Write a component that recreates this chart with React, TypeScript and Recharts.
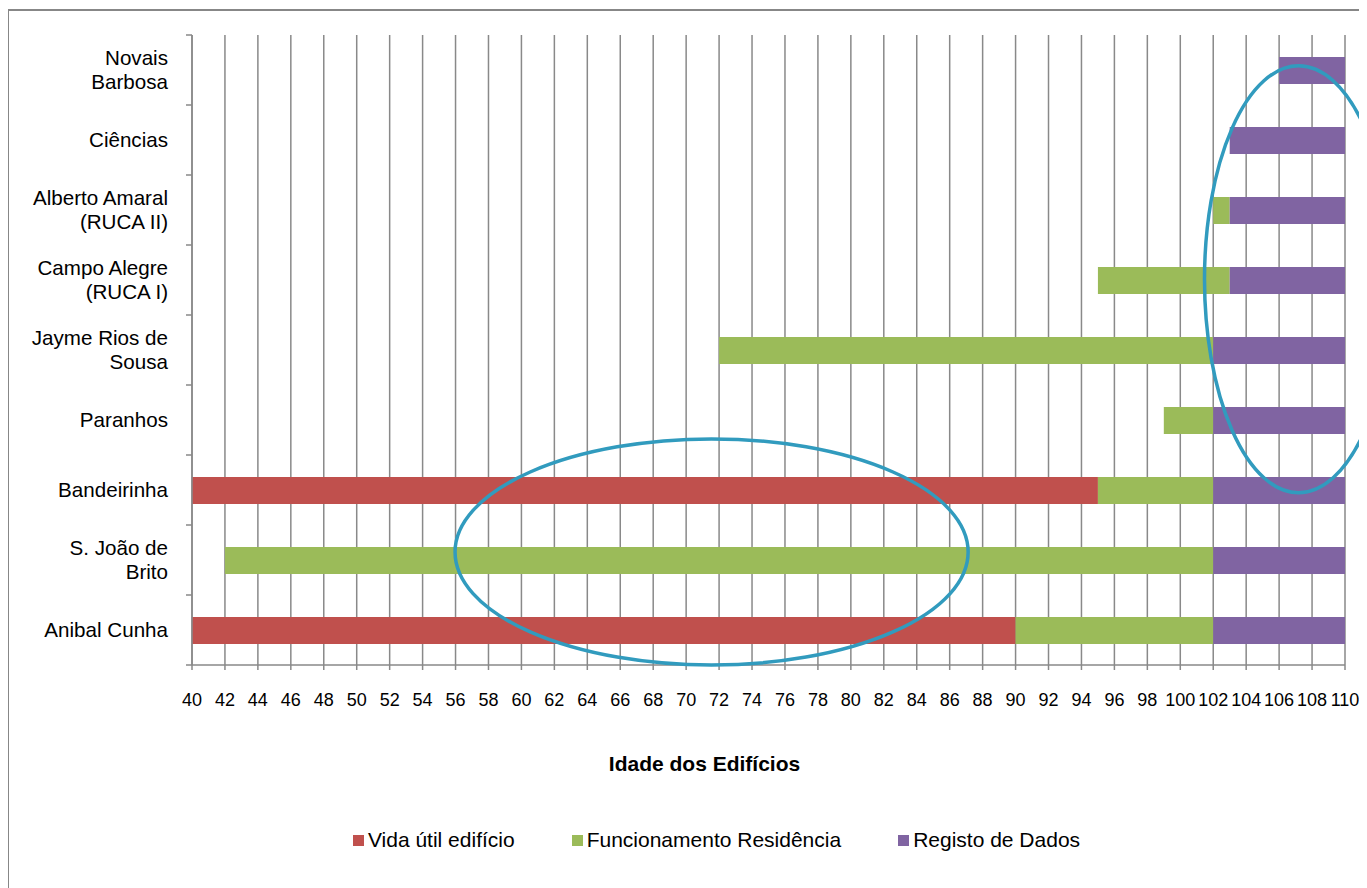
import React from "react";
import { BarChart, Bar, XAxis, YAxis, CartesianGrid, Legend, ReferenceArea, Label } from "recharts";

type Range = [number, number] | null;

// building names, top to bottom ("\n" = line break in the axis label)
const categories = [
  "Novais\nBarbosa",
  "Ciências",
  "Alberto Amaral\n(RUCA II)",
  "Campo Alegre\n(RUCA I)",
  "Jayme Rios de\nSousa",
  "Paranhos",
  "Bandeirinha",
  "S. João de\nBrito",
  "Anibal Cunha",
];

// [start, end] ages for each phase
const vidaUtil: Range[] = [null, null, null, null, null, null, [40, 95], null, [40, 90]];
const funcionamento: Range[] = [null, null, [102, 103], [95, 103], [72, 102], [99, 102], [95, 102], [42, 102], [90, 102]];
const registo: Range[] = [[106, 110], [103, 110], [103, 110], [103, 110], [102, 110], [102, 110], [102, 110], [102, 110], [102, 110]];

const xTicks = [40, 42, 44, 46, 48, 50, 52, 54, 56, 58, 60, 62, 64, 66, 68, 70, 72, 74, 76, 78, 80, 82, 84, 86, 88, 90, 92, 94, 96, 98, 100, 102, 104, 106, 108, 110];

// hand-drawn highlight ellipses: age range, first/last row, inset in row heights
const highlights = [
  { x1: 55.97, x2: 87.12, from: 6, to: 8, insetTop: -0.23, insetBottom: 0 },
  { x1: 101.47, x2: 112.89, from: 0, to: 6, insetTop: 0.44, insetBottom: 0.46 },
];

const series = [
  { key: "vida", name: "Vida útil edifício", color: "#C0504D" },
  { key: "func", name: "Funcionamento Residência", color: "#9BBB59" },
  { key: "registo", name: "Registo de Dados", color: "#8064A2" },
];

const span = (r: Range) => (r ? r[1] - r[0] : 0);

const data = categories.map((name, i) => {
  const parts = [vidaUtil[i], funcionamento[i], registo[i]].filter((p): p is [number, number] => p !== null);
  return {
    name,
    base: Math.min(...parts.map((p) => p[0])),
    vida: span(vidaUtil[i]),
    func: span(funcionamento[i]),
    registo: span(registo[i]),
  };
});

const FONT = '"Liberation Sans", Arial, sans-serif';
const GRID = "#898989";
const TICK_MARGIN = 18;
const TICK_SIZE = 6;

const CategoryTick = (props: any) => {
  const { x, y, payload, index, visibleTicksCount } = props;
  const lines = String(payload.value).split("\n");
  const lh = 24;
  const half = payload.offset || 0;
  const ax = x + TICK_MARGIN + TICK_SIZE;
  return (
    <g>
      <line x1={ax - TICK_SIZE} x2={ax} y1={y - half} y2={y - half} stroke={GRID} strokeWidth={1.5} />
      {index === visibleTicksCount - 1 && (
        <line x1={ax - TICK_SIZE} x2={ax} y1={y + half} y2={y + half} stroke={GRID} strokeWidth={1.5} />
      )}
      <text x={x} y={y} textAnchor="end" fill="#000" fontSize={20.6} fontFamily={FONT}>
        {lines.map((l, i) => (
          <tspan key={i} x={x} dy={i === 0 ? 7 - ((lines.length - 1) * lh) / 2 : lh}>
            {l}
          </tspan>
        ))}
      </text>
    </g>
  );
};

const Ellipse = (props: any) => {
  const { x, y, width, height, rows, insetTop, insetBottom } = props;
  const band = height / rows;
  const top = y + insetTop * band;
  const bottom = y + height - insetBottom * band;
  return (
    <ellipse
      cx={x + width / 2}
      cy={(top + bottom) / 2}
      rx={Math.abs(width) / 2}
      ry={Math.abs(bottom - top) / 2}
      fill="none"
      stroke="#319BBE"
      strokeWidth={3.5}
    />
  );
};

const renderTitle = (props: any) => {
  const vb = props.viewBox;
  return (
    <text
      x={vb.x + vb.width / 2 - 64}
      y={vb.y + 98}
      textAnchor="middle"
      dominantBaseline="central"
      fontSize={21}
      fontWeight="bold"
      fontFamily={FONT}
      fill="#000"
    >
      Idade dos Edifícios
    </text>
  );
};

const renderLegend = () => (
  <div
    style={{
      display: "flex",
      justifyContent: "center",
      alignItems: "center",
      height: 40,
      paddingLeft: 58,
      boxSizing: "border-box",
      fontFamily: FONT,
      fontSize: 21,
      color: "#000",
    }}
  >
    {series.map((s, i) => (
      <div key={s.key} style={{ display: "flex", alignItems: "center", marginLeft: i === 0 ? 0 : 57 }}>
        <span style={{ width: 11, height: 11, background: s.color, marginRight: 4, display: "inline-block" }} />
        <span>{s.name}</span>
      </div>
    ))}
  </div>
);

export default function App() {
  return (
    <div style={{ position: "relative", width: 1359, height: 880, overflow: "hidden", background: "#fff" }}>
      <div
        style={{
          position: "absolute",
          left: -1,
          top: 1,
          width: 1450,
          height: 1000,
          border: "2px solid #878787",
        }}
      />
      <div style={{ position: "absolute", left: 0, top: 0 }}>
        <BarChart
          width={1359}
          height={880}
          data={data}
          layout="vertical"
          margin={{ top: 27, right: 22, bottom: 28, left: 0 }}
          barSize={27}
        >
          <CartesianGrid horizontal={false} stroke={GRID} strokeWidth={1.5} />
          <XAxis
            type="number"
            domain={[40, 110]}
            ticks={xTicks}
            interval={0}
            allowDataOverflow
            height={155}
            tickSize={5}
            tickMargin={23}
            axisLine={{ stroke: GRID, strokeWidth: 1.5 }}
            tickLine={{ stroke: GRID, strokeWidth: 1.5 }}
            tick={{ fontSize: 18, fill: "#000", fontFamily: FONT }}
          >
            <Label content={renderTitle} />
          </XAxis>
          <YAxis
            type="category"
            dataKey="name"
            width={184}
            interval={0}
            tickLine={false}
            tickSize={TICK_SIZE}
            tickMargin={TICK_MARGIN}
            axisLine={{ stroke: GRID, strokeWidth: 1.5 }}
            tick={<CategoryTick />}
          />
          <Bar dataKey="base" stackId="s" fill="transparent" legendType="none" isAnimationActive={false} />
          {series.map((s) => (
            <Bar key={s.key} dataKey={s.key} name={s.name} stackId="s" fill={s.color} isAnimationActive={false} />
          ))}
          {highlights.map((h, i) => (
            <ReferenceArea
              key={i}
              x1={h.x1}
              x2={h.x2}
              y1={categories[h.from]}
              y2={categories[h.to]}
              ifOverflow="visible"
              shape={<Ellipse rows={h.to - h.from + 1} insetTop={h.insetTop} insetBottom={h.insetBottom} />}
              zIndex={1500}
            />
          ))}
          <Legend
            verticalAlign="bottom"
            content={renderLegend}
            wrapperStyle={{ left: 0, width: 1359 }}
          />
        </BarChart>
      </div>
    </div>
  );
}
